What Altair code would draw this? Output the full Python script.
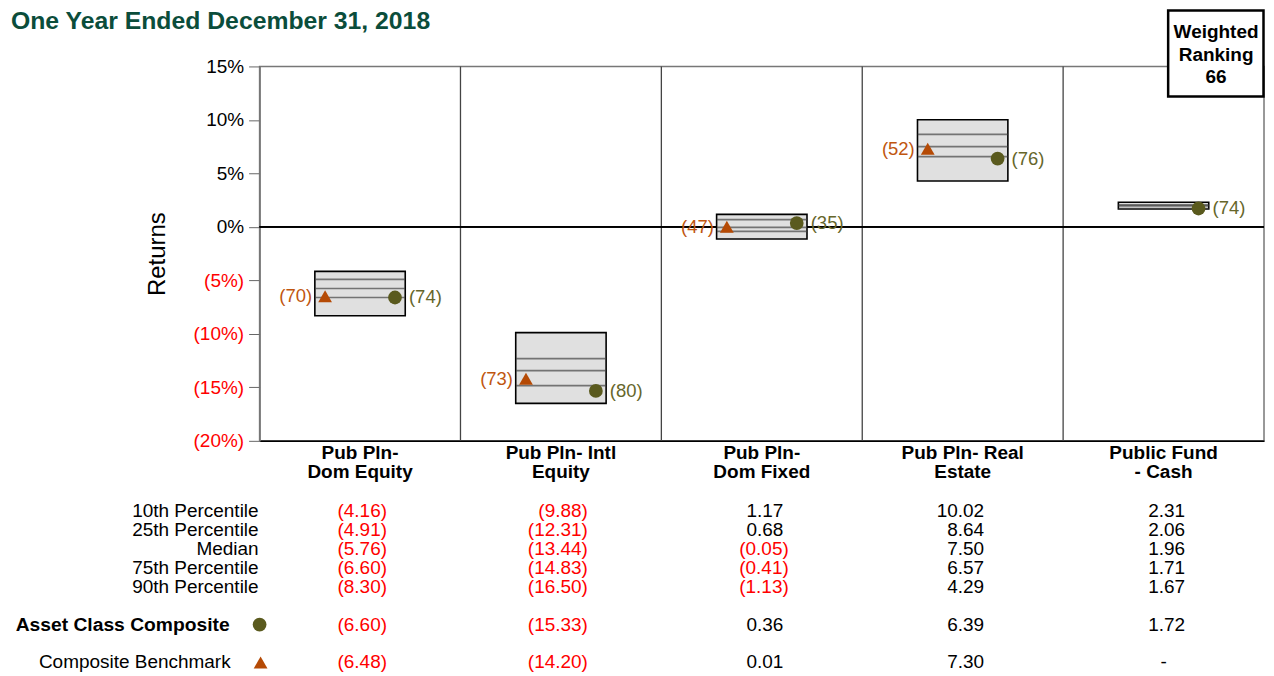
import altair as alt
import pandas as pd

title_text = "One Year Ended December 31, 2018"
ranking_text = "Weighted\nRanking\n66"

categories = ["Pub Pln-\nDom Equity", "Pub Pln- Intl\nEquity", "Pub Pln-\nDom Fixed",
              "Pub Pln- Real\nEstate", "Public Fund\n- Cash"]
p10 = [-4.16, -9.88, 1.17, 10.02, 2.31]
p25 = [-4.91, -12.31, 0.68, 8.64, 2.06]
p50 = [-5.76, -13.44, -0.05, 7.50, 1.96]
p75 = [-6.60, -14.83, -0.41, 6.57, 1.71]
p90 = [-8.30, -16.50, -1.13, 4.29, 1.67]
composite = [-6.60, -15.33, 0.36, 6.39, 1.72]
composite_rank = [74, 80, 35, 76, 74]
benchmark = [-6.48, -14.20, 0.01, 7.30, None]
benchmark_rank = [70, 73, 47, 52, None]

y_ticks = [-20, -15, -10, -5, 0, 5, 10, 15]
pct_rows = ["10th Percentile", "25th Percentile", "Median", "75th Percentile", "90th Percentile"]
comp_label = "Asset Class Composite"
bench_label = "Composite Benchmark"
row_index = [0, 1, 2, 3, 4, 6, 8]

OLIVE = "#5a5a1e"
OLIVE_TXT = "#66662a"
ORANGE = "#b54a05"
ORANGE_TXT = "#c0560f"

# ---------- data frames ----------
box_df = pd.DataFrame({"cat": categories, "p10": p10, "p90": p90})
lines_df = pd.DataFrame(
    [{"cat": c, "v": v} for c, a, b, d in zip(categories, p25, p50, p75) for v in (a, b, d)]
)
comp_df = pd.DataFrame({"cat": categories, "v": composite,
                        "lab": [f"({r})" for r in composite_rank]})
bench_df = pd.DataFrame([{"cat": c, "v": v, "lab": f"({r})"}
                         for c, v, r in zip(categories, benchmark, benchmark_rank) if v is not None])
sep_df = pd.DataFrame({"cat": categories[1:]})

all_rows = pct_rows + [comp_label, bench_label]
table_recs = []
for i, c in enumerate(categories):
    vals = [p10[i], p25[i], p50[i], p75[i], p90[i], composite[i], benchmark[i]]
    for rname, ri, v in zip(all_rows, row_index, vals):
        if v is None:
            txt, kind = "-", "na"
        elif v < 0:
            txt, kind = f"({abs(v):.2f})", "neg"
        else:
            txt, kind = f"{v:.2f}", "pos"
        table_recs.append({"cat": c, "row": ri, "txt": txt, "kind": kind})
table_df = pd.DataFrame(table_recs)
rowlab_df = pd.DataFrame({"name": pct_rows, "row": row_index[:5]})
comp_row_df = pd.DataFrame({"name": [comp_label], "row": [row_index[5]]})
bench_row_df = pd.DataFrame({"name": [bench_label], "row": [row_index[6]]})

# ---------- encodings ----------
x_axis = alt.Axis(title=None, labelExpr="split(datum.label, '\\n')", labelFontWeight="bold",
                  labelFontSize=19, labelColor="black", labelAngle=0, labelLineHeight=19,
                  labelPadding=3, ticks=False, grid=False, domainColor="black", domainWidth=1.5)
x_scale = alt.Scale(domain=categories, paddingInner=0, paddingOuter=0)
X = alt.X("cat:N", sort=categories, scale=x_scale, axis=x_axis)

y_axis = alt.Axis(title="Returns", titleFontSize=24, titleFontWeight="normal", titleColor="black",
                  titlePadding=24, values=y_ticks, labelFontSize=19,
                  labelExpr="datum.value < 0 ? '(' + abs(datum.value) + '%)' : datum.value + '%'",
                  labelColor={"condition": {"test": "datum.value < 0", "value": "#ff0000"},
                              "value": "#000000"},
                  tickColor="#666", tickSize=11, domainColor="#777", domainWidth=1.5,
                  labelPadding=5, grid=False)
y_scale = alt.Scale(domain=[-20, 15], nice=False, zero=False)

def Y(field):
    return alt.Y(field, scale=y_scale, axis=y_axis)

W = 1006
H = 375

sep = alt.Chart(sep_df).mark_rule(color="#444", strokeWidth=1.3).encode(
    x=alt.X("cat:N", sort=categories, scale=x_scale, axis=x_axis, bandPosition=0))
zero = alt.Chart(box_df).mark_rule(color="black", strokeWidth=1.2).encode(y=alt.datum(0))
boxes = alt.Chart(box_df).mark_bar(width={"band": 0.45}, fill="#e0e0e0", stroke="black",
                                   strokeWidth=1.6).encode(x=X, y=Y("p10:Q"), y2="p90:Q")
ticks = alt.Chart(lines_df).mark_tick(size=90, thickness=1.7, color="#444").encode(x=X, y=Y("v:Q"))
comp_pts = alt.Chart(comp_df).mark_point(shape="circle", filled=True, size=190, opacity=1,
                                         color=OLIVE, xOffset=35).encode(x=X, y=Y("v:Q"))
comp_txt = alt.Chart(comp_df).mark_text(align="left", baseline="middle", fontSize=18.5,
                                        color=OLIVE_TXT, dx=35 + 14).encode(
    x=X, y=Y("v:Q"), text="lab:N")
bench_pts = alt.Chart(bench_df).mark_point(shape="triangle-up", filled=True, size=190, opacity=1,
                                           color=ORANGE, xOffset=-35).encode(x=X, y=Y("v:Q"))
bench_txt = alt.Chart(bench_df).mark_text(align="right", baseline="middle", fontSize=18.5,
                                          color=ORANGE_TXT, dx=-35 - 13).encode(
    x=X, y=Y("v:Q"), text="lab:N")

one_df = pd.DataFrame({"t": [ranking_text], "title": [title_text]})
rank_box = alt.Chart(one_df).mark_rect(fill="white", stroke="black", strokeWidth=2.5).encode(
    x=alt.value(910), x2=alt.value(1005.5), y=alt.value(-56), y2=alt.value(30))
rank_txt = alt.Chart(one_df).mark_text(fontSize=19, fontWeight="bold", lineBreak="\n",
                                       lineHeight=22.5, align="center", baseline="middle",
                                       color="black").encode(
    x=alt.value(958), y=alt.value(-34), text="t:N")
title_mark = alt.Chart(one_df).mark_text(fontSize=24.8, fontWeight="bold", align="left",
                                         baseline="top", color="#0b4d3b").encode(
    x=alt.value(-249), y=alt.value(-57), text="title:N")

top = alt.layer(sep, zero, boxes, ticks, bench_pts, comp_pts, bench_txt, comp_txt,
                rank_box, rank_txt, title_mark).properties(
    width=W, height=H, view=alt.ViewBackground(stroke="#777", strokeWidth=1.5))

# ---------- table ----------
ty_scale = alt.Scale(domain=[8.4, -3.5], nice=False, zero=False)
TY = alt.Y("row:Q", scale=ty_scale, axis=None)
TX = alt.X("cat:N", sort=categories, scale=x_scale, axis=None)

t_neg = alt.Chart(table_df).transform_filter("datum.kind == 'neg'").mark_text(
    align="right", baseline="middle", fontSize=19, color="#ff0000", dx=27).encode(
    x=TX, y=TY, text="txt:N")
t_pos = alt.Chart(table_df).transform_filter("datum.kind == 'pos'").mark_text(
    align="right", baseline="middle", fontSize=19, color="black", dx=21.5).encode(
    x=TX, y=TY, text="txt:N")
t_na = alt.Chart(table_df).transform_filter("datum.kind == 'na'").mark_text(
    align="center", baseline="middle", fontSize=19, color="black").encode(
    x=TX, y=TY, text="txt:N")
r_pct = alt.Chart(rowlab_df).mark_text(align="right", baseline="middle", fontSize=19,
                                       color="black").encode(
    x=alt.value(-1), y=TY, text="name:N")
r_comp = alt.Chart(comp_row_df).mark_text(align="right", baseline="middle", fontSize=19.3,
                                          fontWeight="bold", color="black").encode(
    x=alt.value(-30), y=TY, text="name:N")
r_comp_sym = alt.Chart(comp_row_df).mark_point(shape="circle", filled=True, size=190, opacity=1,
                                               color=OLIVE).encode(x=alt.value(0), y=TY)
r_bench = alt.Chart(bench_row_df).mark_text(align="right", baseline="middle", fontSize=19,
                                            color="black").encode(
    x=alt.value(-29), y=TY, text="name:N")
r_bench_sym = alt.Chart(bench_row_df).mark_point(shape="triangle-up", filled=True, size=190,
                                                 opacity=1, color=ORANGE).encode(
    x=alt.value(1), y=TY)

bottom = alt.layer(t_neg, t_pos, t_na, r_pct, r_comp, r_comp_sym, r_bench, r_bench_sym).properties(
    width=W, height=226.1, view=alt.ViewBackground(strokeWidth=0))

chart = alt.vconcat(top, bottom, spacing=3.5, bounds="flush").properties(
    padding={"left": 2, "top": 0, "right": 0, "bottom": 0},
).configure(font="Liberation Sans").configure_view(strokeWidth=0)

chart.save("out.html", embed_options={"renderer": "svg", "actions": False})
